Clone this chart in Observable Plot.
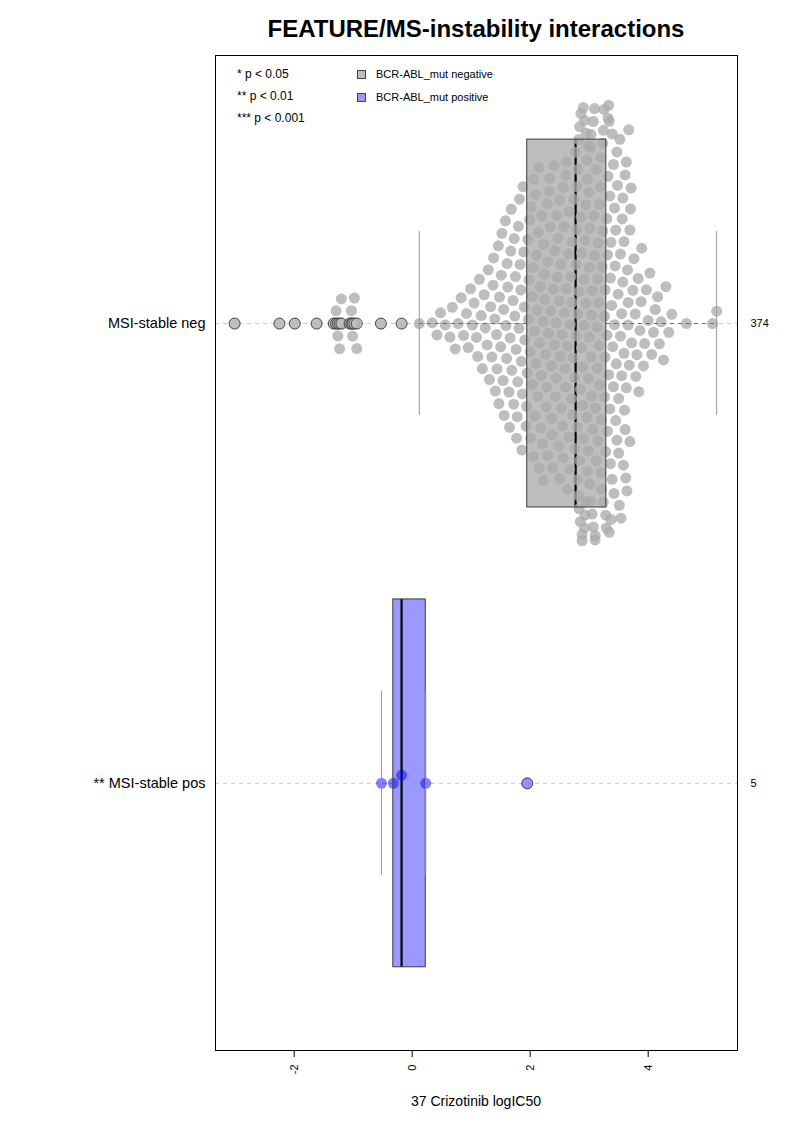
<!DOCTYPE html>
<html><head><meta charset="utf-8">
<script src="https://cdn.jsdelivr.net/npm/d3@7"></script>
<script src="https://cdn.jsdelivr.net/npm/@observablehq/plot@0.6"></script>
<style>
body{margin:0;background:#fff;font-family:"Liberation Sans",Arial,sans-serif;}
#wrap{position:relative;width:793px;height:1122px;overflow:hidden;}
#title{position:absolute;left:215px;width:522px;top:15px;text-align:center;font-weight:bold;font-size:24px;}
#chart{position:absolute;left:0;top:45px;}
#xlabel{position:absolute;left:215px;width:522px;top:1093px;text-align:center;font-size:14px;}
.leg{position:absolute;font-size:11px;line-height:13px;white-space:nowrap;}
.star{font-size:12px;}
.sw{position:absolute;width:9px;height:9px;border:1px solid #444;box-sizing:border-box;}
</style></head><body>
<div id="wrap">
  <div id="title">FEATURE/MS-instability interactions</div>
  <div id="chart"></div>
  <div id="xlabel"></div>
  <div id="legend"></div>
</div>
<script>
const groups = ["MSI-stable neg", "MSI-stable pos"];
const groupLabels = ["MSI-stable neg", "** MSI-stable pos"];
const groupCounts = [374, 5];
const groupFill = ["#BEBEBE", "#9999FF"];
const pointColor = ["#AAAAAA", "#0000FF"];
const pointOpacity = [0.77, 0.5];
const legendStars = ["* p < 0.05", "** p < 0.01", "*** p < 0.001"];
const legendKeys = ["BCR-ABL_mut negative", "BCR-ABL_mut positive"];
const xTicks = [-2, 0, 2, 4];
const xLabel = "37 Crizotinib logIC50";

// box statistics
const boxQ1 = [1.95, -0.32];
const boxMedian = [2.77, -0.18];
const boxQ3 = [3.29, 0.23];
const whiskerLow = [0.12, -0.52];
const whiskerHigh = [5.16, 0.23];

// MSI-stable neg (BCR-ABL_mut negative), values
const negValues = [
 -3.01,-2.25,-1.99,-1.62,-1.33,-1.29,-1.26,-1.23,-1.20,-1.06,-1.03,-1.01,-0.98,-0.94,-0.53,-0.18,
 0.12,0.34,0.42,0.48,0.56,0.64,0.68,0.73,0.78,0.83,0.87,0.92,0.95,0.99,1.02,1.05,1.09,1.11,1.14,1.17,
 1.19,1.22,1.24,1.27,1.29,1.31,1.33,1.35,
 1.37,1.38,1.40,1.41,1.43,1.44,1.46,1.47,1.48,1.50,1.51,1.52,1.54,1.55,1.56,1.58,1.59,1.60,1.61,1.62,
 1.64,1.65,1.66,1.67,1.68,1.69,1.71,1.72,1.73,1.74,1.75,1.76,1.77,1.78,1.79,1.80,1.81,1.82,1.83,1.84,
 1.85,1.86,1.87,1.88,1.89,1.90,1.91,1.93,1.94,
 1.95,1.96,1.97,1.98,1.99,2.00,2.01,2.02,2.03,2.04,2.05,2.05,2.06,2.07,2.08,2.09,2.10,2.11,2.12,2.13,
 2.14,2.15,2.15,2.16,2.17,2.18,2.19,2.20,2.21,2.22,2.22,2.23,2.24,2.25,2.26,2.27,2.28,2.29,2.30,2.30,
 2.31,2.32,2.33,2.34,2.35,2.36,2.37,2.37,2.38,2.39,2.40,2.41,2.42,2.43,2.44,2.44,2.45,2.46,2.47,2.48,
 2.49,2.50,2.50,2.51,2.52,2.53,2.54,2.55,2.56,2.56,2.57,2.58,2.59,2.60,2.61,2.61,2.62,2.63,2.64,2.65,
 2.66,2.66,2.67,2.68,2.69,2.70,2.71,2.71,2.72,2.73,2.74,2.75,2.76,2.77,
 2.78,2.78,2.79,2.79,2.80,2.80,2.81,2.81,2.82,2.82,2.83,2.83,2.84,2.84,2.85,2.85,2.86,2.86,2.87,2.87,
 2.88,2.88,2.89,2.89,2.90,2.90,2.91,2.91,2.92,2.92,2.93,2.93,2.94,2.94,2.95,2.95,2.96,2.96,2.97,2.97,
 2.98,2.98,2.99,2.99,3.00,3.00,3.01,3.01,3.02,3.02,3.03,3.03,3.04,3.04,3.05,3.05,
 3.06,3.07,3.07,3.08,3.09,3.09,3.10,3.10,3.11,3.12,3.12,3.13,3.14,3.14,3.15,3.15,3.16,3.17,3.18,3.18,
 3.19,3.20,3.20,3.21,3.21,3.22,3.23,3.23,3.24,3.24,3.25,3.26,3.26,3.27,3.27,3.28,3.28,3.29,
 3.30,3.30,3.31,3.31,3.32,3.32,3.33,3.33,3.34,3.34,3.35,3.35,3.36,3.36,3.37,3.37,3.38,3.39,3.39,3.40,
 3.41,3.41,3.42,3.43,3.43,3.44,3.45,3.45,3.46,3.47,3.47,3.48,3.49,3.50,3.50,3.51,3.52,3.53,3.53,3.54,
 3.55,3.55,3.56,3.57,3.57,3.58,3.59,3.59,3.60,
 3.61,3.61,3.62,3.63,3.63,3.64,3.65,3.66,3.66,3.67,3.68,3.69,3.69,3.70,3.71,3.72,
 3.74,3.76,3.78,3.79,3.81,3.83,3.84,3.86,3.88,3.89,
 3.92,3.94,3.97,4.00,4.03,4.06,4.09,4.12,4.16,4.19,
 4.22,4.26,4.30,4.35,4.40,4.65,5.09,5.16
];
// MSI-stable pos (BCR-ABL_mut positive)
const posValues = [-0.52, -0.32, -0.18, 0.23, 1.95];
const groupValues = [negValues, posValues];
const swarmPadding = [2, 0.5];

const rows = groups.map((g, i) => ({
  group: g, row: i + 1, label: groupLabels[i], count: String(groupCounts[i]),
  q1: boxQ1[i], med: boxMedian[i], q3: boxQ3[i], lo: whiskerLow[i], hi: whiskerHigh[i]
}));

// swarm: Plot's dodgeY, then recentred on the row and wrapped (corral) like R beeswarm
function swarm(values, row, color, opacity, padding, wrapPx) {
  const opts = Plot.dodgeY({anchor: "middle", padding},
    {x: d => d, r: 5.5, fill: color, fillOpacity: opacity});
  const base = opts.initializer;
  opts.initializer = function(data, facets, channels, scales, dimensions, context) {
    const out = base.call(this, data, facets, channels, scales, dimensions, context);
    const Y = out.channels.y.value;
    const ry = scales.y(row);
    for (const I of out.facets || facets) {
      if (!I.length) continue;
      const cy = Y[I[0]];
      for (const i of I) {
        let off = Y[i] - cy;
        if (wrapPx) off = (((off + wrapPx) % (2 * wrapPx)) + 2 * wrapPx) % (2 * wrapPx) - wrapPx;
        Y[i] = ry + off;
      }
    }
    return out;
  };
  return Plot.dot(values, opts);
}

const marks = [];
marks.push(Plot.ruleY([1, 2], {stroke: "#C8C8C8", strokeDasharray: "4,4"}));
rows.forEach((d, i) => {
  const r = [d];
  marks.push(Plot.rect(r, {x1: "q1", x2: "q3", y1: e => e.row - 0.4, y2: e => e.row + 0.4, fill: groupFill[i]}));
  marks.push(Plot.ruleX(r, {x: "med", y1: e => e.row - 0.4, y2: e => e.row + 0.4, stroke: "black", strokeWidth: 2.2}));
});
rows.forEach((d, i) => {
  marks.push(swarm(groupValues[i], d.row, pointColor[i], pointOpacity[i], swarmPadding[i], 220));
});
rows.forEach((d, i) => {
  const r = [d];
  marks.push(Plot.rect(r, {x1: "q1", x2: "q3", y1: e => e.row - 0.4, y2: e => e.row + 0.4, fill: "none", stroke: "#3a3a3a", strokeWidth: 1}));
  marks.push(Plot.ruleY(r, {y: "row", x1: "lo", x2: "q1", stroke: "#6a6a6a", strokeDasharray: "4,4"}));
  marks.push(Plot.ruleY(r, {y: "row", x1: "q3", x2: "hi", stroke: "#6a6a6a", strokeDasharray: "4,4"}));
  marks.push(Plot.ruleX(r, {x: "lo", y1: e => e.row - 0.2, y2: e => e.row + 0.2, stroke: "#999"}));
  marks.push(Plot.ruleX(r, {x: "hi", y1: e => e.row - 0.2, y2: e => e.row + 0.2, stroke: "#999"}));
  const outl = groupValues[i].filter(v => v < d.lo || v > d.hi);
  marks.push(Plot.dot(outl, {x: v => v, y: () => d.row, r: 5.5, fill: groupFill[i], fillOpacity: 0.7, stroke: "#333", strokeWidth: 0.9}));
});
marks.push(Plot.text(rows, {y: "row", text: "label", frameAnchor: "left", dx: -10, textAnchor: "end", fontSize: 14.5, fill: "black"}));
marks.push(Plot.text(rows, {y: "row", text: "count", frameAnchor: "right", dx: 13, textAnchor: "start", fontSize: 11, fill: "black"}));
marks.push(Plot.frame({stroke: "black"}));

const chart = Plot.plot({
  width: 793, height: 1077,
  marginTop: 10, marginBottom: 72, marginLeft: 215, marginRight: 56,
  style: {fontFamily: "Liberation Sans, Arial, sans-serif", fontSize: "11px", background: "white", color: "black"},
  x: {domain: [-3.334, 5.514], ticks: xTicks, tickFormat: d => String(d), tickRotate: -90, tickSize: 7, tickPadding: 7, label: null},
  y: {domain: [0.417, 2.581], reverse: true, axis: null},
  marks
});
document.getElementById("chart").appendChild(chart);
document.getElementById("xlabel").textContent = xLabel;

const leg = document.getElementById("legend");
legendStars.forEach((t, i) => {
  const el = document.createElement("div");
  el.className = "leg star"; el.textContent = t;
  el.style.left = "237px"; el.style.top = (68 + i * 22) + "px";
  leg.appendChild(el);
});
legendKeys.forEach((t, i) => {
  const sw = document.createElement("div");
  sw.className = "sw"; sw.style.background = groupFill[i];
  sw.style.left = "357px"; sw.style.top = (70 + i * 22.5) + "px";
  leg.appendChild(sw);
  const el = document.createElement("div");
  el.className = "leg"; el.textContent = t;
  el.style.left = "376px"; el.style.top = (68 + i * 22.5) + "px";
  leg.appendChild(el);
});
</script>
</body></html>
